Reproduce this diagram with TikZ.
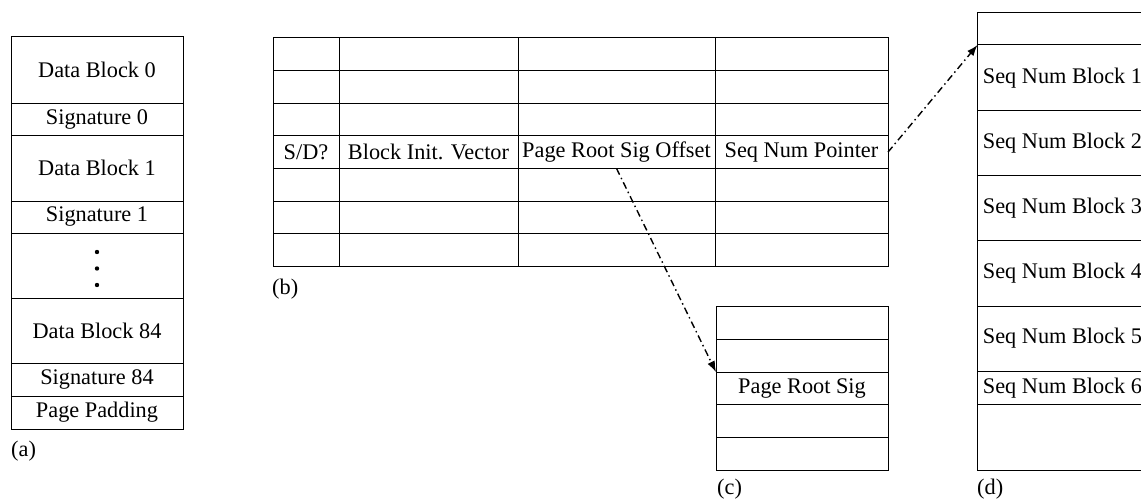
\documentclass[tikz,border=0pt]{standalone}
\usepackage{fontspec}
\setmainfont{Liberation Serif}
\usetikzlibrary{arrows.meta}

\tikzset{
  cell/.style={draw=black, line width=1pt, rectangle, inner sep=0pt, outer sep=0pt,
               anchor=north west, font=\fontsize{22.3}{26}\selectfont},
  tag/.style={inner sep=0pt, anchor=base west, font=\fontsize{22.3}{26}\selectfont},
  ptr/.style={line width=1.4pt, dash pattern=on 7pt off 3.5pt on 1.5pt off 3.5pt,
              -{Latex[length=11pt,width=8pt]}}
}

\begin{document}
\begin{tikzpicture}[x=1pt,y=-1pt]
\useasboundingbox (0,0) rectangle (1141,503);

% (a) page layout
\foreach \t/\h/\txt [count=\i] in {37/66/Data Block 0, 103/32/Signature 0,
    135/66/Data Block 1, 201/32/Signature 1, 233/65/{}, 298/65/Data Block 84,
    363/33/Signature 84, 396/33/Page Padding}
  \node[cell, minimum width=172pt, minimum height=\h pt] (a\i) at (11,\t) {\txt};
\fill (97,252) circle (2.2) (97,268.5) circle (2.2) (97,285) circle (2.2);
\node[tag] (la) at (11,456) {(a)};

% (b) table of entries
\foreach \r in {1,2,3,5,6,7}
  \foreach \x/\w [count=\c] in {273/66, 339/179, 518/197, 715/173}
    \node[cell, minimum width=\w pt, minimum height=32.6pt] (b\r\c) at (\x,{38+(\r-1)*32.6}) {};
\node[cell, minimum width=66pt,  minimum height=32.6pt] (b41) at (273,135.8) {S/D?};
\node[cell, minimum width=179pt, minimum height=32.6pt] (b42) at (339,135.8) {Block Init. Vector};
\node[cell, minimum width=197pt, minimum height=32.6pt] (b43) at (518,135.8) {Page Root Sig Offset};
\node[cell, minimum width=173pt, minimum height=32.6pt] (b44) at (715,135.8) {Seq Num Pointer};
\node[tag] (lb) at (272,294.5) {(b)};

% (c) root signature area
\foreach \txt [count=\i] in {{}, {}, Page Root Sig, {}, {}}
  \node[cell, minimum width=172pt, minimum height=32.7pt] (c\i) at (716,{306.7+(\i-1)*32.7}) {\txt};
\node[tag] (lc) at (717,494.5) {(c)};

% (d) sequence number blocks
\foreach \t/\h/\txt [count=\i] in {12.7/32.3/{}, 45/65.7/Seq Num Block 1,
    110.7/65/Seq Num Block 2, 175.7/65/Seq Num Block 3, 240.7/65.3/Seq Num Block 4,
    306/65/Seq Num Block 5, 371/33.3/Seq Num Block 6, 404.3/65.7/{}}
  \node[cell, minimum width=170pt, minimum height=\h pt] (d\i) at (977.5,\t) {\txt};
\node[tag] (ld) at (977,494.5) {(d)};

% pointers
\draw[ptr] (b43.south) -- (c3.north west);
\draw[ptr] (b44.east) -- (d2.north west);
\end{tikzpicture}
\end{document}
